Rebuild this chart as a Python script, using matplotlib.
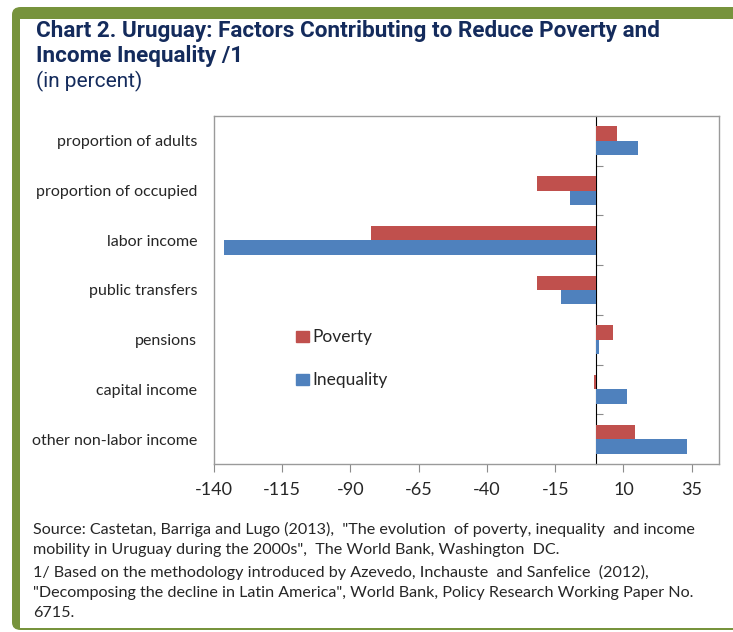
import matplotlib
matplotlib.use("Agg")
import matplotlib.pyplot as plt
from matplotlib.patches import Rectangle, FancyBboxPatch, Patch
import numpy as np

# data (top category first)
categories = ["proportion of adults", "proportion of occupied", "labor income",
              "public transfers", "pensions", "capital income", "other non-labor income"]
poverty = [7.5, -21.6, -82.5, -21.6, 6.0, -0.7, 14.2]
inequality = [15.4, -9.6, -136.2, -12.7, 1.1, 11.3, 33.2]
xticks = [-140, -115, -90, -65, -40, -15, 10, 35]
xmin, xmax = -140, 45

RED = "#C0504D"
BLUE = "#4F81BD"
GREEN = "#77933C"
NAVY = "#142B5C"
TXT = "#262626"

fig = plt.figure(figsize=(7.33, 6.32), dpi=100)
W, H = 733, 632

# green frame (left bar, top bar, thin bottom line) behind everything
fig.patches.append(FancyBboxPatch((12 / W, 2 / H), 1.2, (H - 7) / H - 2 / H,
                                  boxstyle="round,pad=0,rounding_size=0.012",
                                  transform=fig.transFigure, facecolor=GREEN,
                                  edgecolor="none", zorder=-2))
fig.patches.append(Rectangle((20 / W, 4 / H), 1.0, (H - 19) / H - 4 / H,
                             transform=fig.transFigure, facecolor="white",
                             edgecolor="none", zorder=-1))

# titles
tfont = dict(family="Roboto", weight="bold", fontsize=16.2, color=NAVY, va="center", ha="left")
fig.text(36 / W, 1 - 31 / H, "Chart 2. Uruguay: Factors Contributing to Reduce Poverty and", **tfont)
fig.text(36 / W, 1 - 56 / H, "Income Inequality /1", **tfont)
fig.text(36 / W, 1 - 81 / H, "(in percent)", family="Roboto", fontsize=15, color=NAVY,
         va="center", ha="left")

ax = fig.add_axes([214 / W, 1 - 464 / H, (719 - 214) / W, (464 - 116) / H])
y = np.arange(len(categories))
h = 0.29
ax.barh(y - h / 2, poverty, height=h, color=RED, label="Poverty", zorder=2)
ax.barh(y + h / 2, inequality, height=h, color=BLUE, label="Inequality", zorder=2)

ax.set_xlim(xmin, xmax)
ax.set_ylim(len(categories) - 0.5, -0.5)
ax.set_xticks(xticks)
ax.set_xticklabels([str(t) for t in xticks], family="Lato", fontsize=13, color=TXT)
ax.set_yticks(y)
ax.set_yticklabels(categories, family="Lato", fontsize=11.5, color=TXT)
ax.tick_params(axis="y", length=0, pad=12)
ax.tick_params(axis="x", direction="out", length=6, color="#8C8C8C", pad=7)
for s in ax.spines.values():
    s.set_color("#9A9A9A")
    s.set_linewidth(1.0)

# category axis crossing at zero, with its tick marks
zero_pos = (0 - xmin) / (xmax - xmin)
sec = ax.secondary_yaxis(zero_pos)
sec.set_yticks(np.arange(len(categories) - 1) + 0.5)
sec.set_yticklabels([])
sec.tick_params(axis="y", direction="out", length=5, color="#8C8C8C")
sec.spines["left"].set_color("#6E6E6E")
sec.spines["left"].set_linewidth(1.0)

leg = ax.legend(handles=[Patch(color=RED, label="Poverty"), Patch(color=BLUE, label="Inequality")],
                loc="center left", bbox_to_anchor=(0.162, 0.302), frameon=False,
                borderpad=0, borderaxespad=0,
                prop={"family": "Lato", "size": 12.5}, handlelength=0.75, handleheight=0.63,
                handletextpad=0.2, labelspacing=1.55)
for t in leg.get_texts():
    t.set_color(TXT)

source = ('Source: Castetan, Barriga and Lugo (2013),  "The evolution  of poverty, inequality  and income\n'
          'mobility in Uruguay during the 2000s",  The World Bank, Washington  DC.\n'
          '1/ Based on the methodology introduced by Azevedo, Inchauste  and Sanfelice  (2012),\n'
          '"Decomposing the decline in Latin America", World Bank, Policy Research Working Paper No.\n'
          '6715.')
fig.text(33 / W, 1 - 522 / H, source, family="Lato", fontsize=11.6, color=TXT,
         va="top", ha="left", linespacing=1.58)

fig.savefig("out.png", dpi=100)
